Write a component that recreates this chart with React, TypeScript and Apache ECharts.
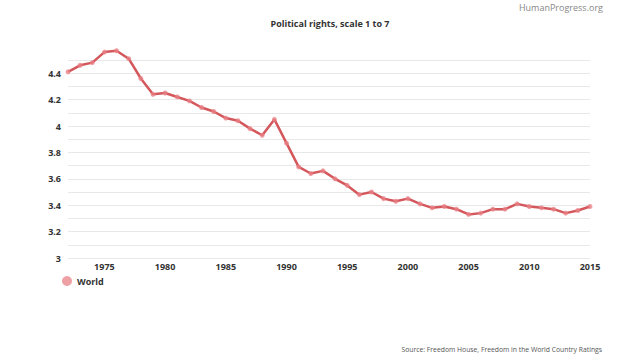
import React, { useEffect, useRef } from "react";
import * as echarts from "echarts";

const years: string[] = [];
for (let y = 1972; y <= 2015; y++) years.push(String(y));

const worldValues = [
  4.41, 4.46, 4.48, 4.56, 4.57, 4.51, 4.36, 4.24, 4.25, 4.22,
  4.19, 4.14, 4.11, 4.06, 4.04, 3.98, 3.93, 4.05, 3.87, 3.69,
  3.64, 3.66, 3.60, 3.55, 3.48, 3.50, 3.45, 3.43, 3.45, 3.41,
  3.38, 3.39, 3.37, 3.33, 3.34, 3.37, 3.37, 3.41, 3.39, 3.38,
  3.37, 3.34, 3.36, 3.39,
];

const titleText = "Political rights, scale 1 to 7";
const brandText = "HumanProgress.org";
const sourceText = "Source: Freedom House, Freedom in the World Country Ratings";
const seriesName = "World";

export default function App() {
  const ref = useRef<HTMLDivElement>(null);
  useEffect(() => {
    if (!ref.current) return;
    const chart = echarts.init(ref.current, null, { renderer: "svg" });
    const font = "'Open Sans', sans-serif";
    chart.setOption({
      animation: false,
      backgroundColor: "#ffffff",
      textStyle: { fontFamily: font },
      title: {
        text: titleText,
        left: 325,
        textAlign: "center",
        top: 14,
        textStyle: { fontSize: 9, fontWeight: "bold", color: "#333", fontFamily: font },
      },
      graphic: [
        {
          type: "text",
          right: 21,
          top: 3,
          style: { text: brandText, fontSize: 9, fill: "#888", fontFamily: font },
        },
        {
          type: "text",
          right: 22,
          top: 346,
          style: { text: sourceText, fontSize: 6.8, fill: "#555", fontFamily: font },
        },
      ],
      legend: {
        left: 57,
        top: 271,
        icon: "circle",
        itemWidth: 10,
        itemHeight: 10,
        itemGap: 6,
        data: [seriesName],
        textStyle: { fontSize: 9, fontWeight: "bold", color: "#333", fontFamily: font },
      },
      grid: { left: 68, right: 34, top: 60, bottom: 104 },
      xAxis: {
        type: "category",
        data: years,
        boundaryGap: false,
        axisLine: { show: false },
        axisTick: { show: false },
        splitLine: { show: false },
        axisLabel: {
          interval: (_i: number, v: string) => Number(v) % 5 === 0,
          fontSize: 9,
          fontWeight: "bold",
          color: "#333",
          margin: 4,
          fontFamily: font,
        },
      },
      yAxis: {
        type: "value",
        min: 3,
        max: 4.5,
        interval: 0.1,
        axisLine: { show: false },
        axisTick: { show: false },
        splitLine: { lineStyle: { color: "#e8e8e8", width: 1 } },
        axisLabel: {
          fontSize: 9,
          fontWeight: "bold",
          color: "#333",
          margin: 7,
          fontFamily: font,
          formatter: (v: number) => {
            const r = Math.round(v * 10);
            if (r % 2 !== 0) return "";
            return String(Math.round(v * 10) / 10);
          },
        },
      },
      series: [
        {
          name: seriesName,
          type: "line",
          data: worldValues,
          clip: false,
          symbol: "circle",
          symbolSize: 5,
          itemStyle: { color: "rgba(232,130,135,0.75)" },
          lineStyle: { color: "#d4575c", width: 2.5 },
        },
      ],
    });
    return () => chart.dispose();
  }, []);
  return (
    <div
      ref={ref}
      style={{ position: "fixed", left: 0, top: 0, width: 624, height: 362 }}
    />
  );
}
